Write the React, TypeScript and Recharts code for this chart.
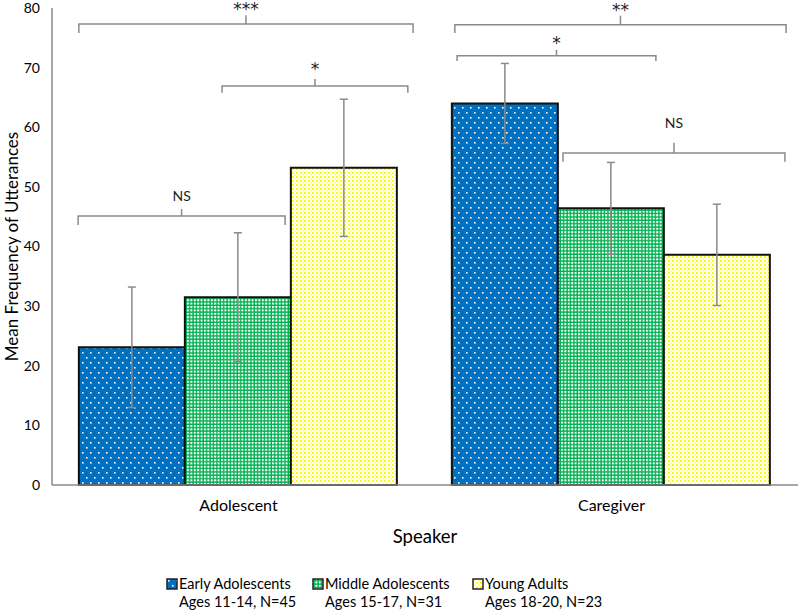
import React from "react";
import {
  BarChart,
  Bar,
  XAxis,
  YAxis,
  ErrorBar,
  Legend,
  Label,
  usePlotArea,
} from "recharts";

// speakers on the x axis
const speakers = ["Adolescent", "Caregiver"];

// mean frequency of utterances per age group
const early = [23.1, 64.0];
const middle = [31.5, 46.4];
const young = [53.2, 38.6];

// error bar half lengths
const earlyErr = [10.1, 6.7];
const middleErr = [10.8, 7.7];
const youngErr = [11.5, 8.5];

const yTicks = [0, 10, 20, 30, 40, 50, 60, 70, 80];
const yMax = 80;

// significance brackets: x in category units (0..2), y in data units
const brackets = [
  { label: "***", from: 0.072, to: 0.968, y: 77.3, drop: 1.5, rise: 1.5, gap: 0 },
  { label: "*", from: 0.456, to: 0.954, y: 66.9, drop: 1.1, rise: 1.2, gap: 4 },
  { label: "NS", from: 0.07, to: 0.625, y: 45.1, drop: 1.5, rise: 1.2, gap: 8 },
  { label: "**", from: 1.08, to: 1.968, y: 77.2, drop: 1.4, rise: 1.5, gap: 0 },
  { label: "*", from: 1.086, to: 1.619, y: 72.0, drop: 0.9, rise: 1.0, gap: 1 },
  { label: "NS", from: 1.37, to: 1.965, y: 55.7, drop: 1.5, rise: 1.7, gap: 15 },
];

const groups = [
  { key: "early", name: "Early Adolescents", sub: "Ages 11-14, N=45", fill: "url(#patBlue)" },
  { key: "middle", name: "Middle Adolescents", sub: "Ages 15-17, N=31", fill: "url(#patGreen)" },
  { key: "young", name: "Young Adults", sub: "Ages 18-20, N=23", fill: "url(#patYellow)" },
];

const data = speakers.map((s, i) => ({
  speaker: s,
  early: early[i],
  middle: middle[i],
  young: young[i],
  earlyErr: earlyErr[i],
  middleErr: middleErr[i],
  youngErr: youngErr[i],
}));

const lineGray = "#8a8a8a";

function Brackets() {
  const area = usePlotArea();
  if (!area) return null;
  const px = (c: number) => area.x + (c * area.width) / speakers.length;
  const py = (v: number) => area.y + area.height * (1 - v / yMax);
  return (
    <g>
      {brackets.map((b, i) => {
        const x1 = px(b.from);
        const x2 = px(b.to);
        const xm = (x1 + x2) / 2;
        const y = py(b.y);
        const yEnd = py(b.y - b.drop);
        const yTop = py(b.y + b.rise);
        const isStar = b.label !== "NS";
        return (
          <g key={i}>
            <path
              d={`M${x1},${yEnd}V${y}H${x2}V${yEnd}M${xm},${y}V${yTop}`}
              fill="none"
              stroke={lineGray}
              strokeWidth={1.5}
            />
            <text
              x={xm}
              y={yTop - b.gap}
              textAnchor="middle"
              fill="#222"
              fontSize={isStar ? 17 : 14}
              fontFamily={isStar ? "'DejaVu Sans', sans-serif" : undefined}
            >
              {b.label}
            </text>
          </g>
        );
      })}
    </g>
  );
}

function renderLegend() {
  return (
    <div style={{ display: "flex", paddingLeft: 166, paddingTop: 8, fontSize: 14.5, lineHeight: "18px", color: "#000" }}>
      {groups.map((g, i) => (
        <div key={g.key} style={{ display: "flex", width: i === 0 ? 146 : 160 }}>
          <svg width={12} height={12} style={{ marginTop: 3, marginRight: 1, flex: "none" }}>
            <rect x={1} y={1} width={10} height={10} fill={g.fill} stroke="#222" strokeWidth={1.5} />
          </svg>
          <div>
            <div>{g.name}</div>
            <div>{g.sub}</div>
          </div>
        </div>
      ))}
    </div>
  );
}

export default function App() {
  return (
    <div style={{ position: "absolute", left: 0, top: 0, fontFamily: "Lato, 'Open Sans', sans-serif" }}>
      <BarChart
        width={800}
        height={611}
        data={data}
        margin={{ top: 8, right: 2, left: 0, bottom: 0 }}
        barCategoryGap="7.2%"
        barGap={0}
      >
        <defs>
          <pattern id="patBlue" patternUnits="userSpaceOnUse" width={8} height={10}>
            <rect width={8} height={10} fill="#0070C0" />
            <rect x={2} y={2} width={1.6} height={1.6} fill="#ffffff" />
            <rect x={6} y={7} width={1.6} height={1.6} fill="#ffffff" />
          </pattern>
          <pattern id="patGreen" patternUnits="userSpaceOnUse" width={3.4} height={3.4}>
            <rect width={3.4} height={3.4} fill="#00B050" />
            <rect x={0} y={0} width={2} height={2} fill="#ffffff" />
          </pattern>
          <pattern id="patYellow" patternUnits="userSpaceOnUse" width={4} height={4}>
            <rect width={4} height={4} fill="#ffffff" />
            <rect x={0} y={0} width={2} height={2} fill="#FFFF00" />
            <rect x={2} y={2} width={2} height={2} fill="#FFFFB0" />
          </pattern>
        </defs>
        <XAxis
          dataKey="speaker"
          height={82}
          tickLine={false}
          tickMargin={9}
          axisLine={{ stroke: lineGray, strokeWidth: 1.5 }}
          tick={{ fontSize: 16, fill: "#000" }}
        >
          <Label value="Speaker" position="insideBottom" offset={24} style={{ fontSize: 18.5, fill: "#000" }} />
        </XAxis>
        <YAxis
          width={52}
          domain={[0, yMax]}
          ticks={yTicks}
          tickLine={false}
          tickMargin={6}
          axisLine={{ stroke: lineGray, strokeWidth: 1.5 }}
          tick={{ fontSize: 14, fill: "#000" }}
        >
          <Label
            value="Mean Frequency of Utterances"
            angle={-90}
            position="insideLeft"
            offset={12}
            style={{ textAnchor: "middle", fontSize: 17, fill: "#000" }}
          />
        </YAxis>
        <Legend verticalAlign="bottom" height={44} content={renderLegend} />
        {groups.map((g) => (
          <Bar
            key={g.key}
            dataKey={g.key}
            name={g.name}
            fill={g.fill}
            stroke="#111"
            strokeWidth={2}
            isAnimationActive={false}
          >
            <ErrorBar dataKey={`${g.key}Err`} direction="y" width={4} stroke={lineGray} strokeWidth={1.5} />
          </Bar>
        ))}
        <Brackets />
      </BarChart>
    </div>
  );
}
